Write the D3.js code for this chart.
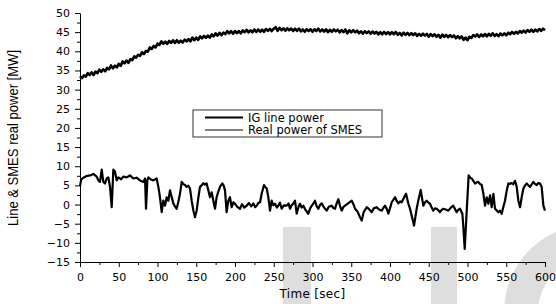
<!DOCTYPE html>
<html>
<head>
<meta charset="utf-8">
<script src="https://cdn.jsdelivr.net/npm/d3@7"></script>
<style>
  body { margin: 0; background: #fff; }
  svg { display: block; }
  .tick text { font-family: "DejaVu Sans", sans-serif; font-size: 11px; fill: #000; }
</style>
</head>
<body>
<svg id="chart" width="556" height="304"></svg>
<script>
const width = 556;
const height = 304;

const margin = {top: 13, right: 11, bottom: 42, left: 80};

// IG line power [MW], sampled every 2.5 s from 0 to 600 s
const igStep = 2.5;
const igPower = [
  33.5, 33.0, 33.7, 33.4, 34.3, 33.8, 34.5, 33.8, 34.7, 34.3,
  35.2, 34.65, 35.3, 34.8, 35.65, 35.3, 36.3, 35.55, 36.25, 35.8,
  36.7, 36.2, 37.35, 36.85, 37.6, 37.0, 37.95, 37.7, 38.65, 38.35,
  39.1, 38.8, 39.75, 39.25, 40.1, 39.9, 41.0, 40.6, 41.4, 41.0,
  42.0, 41.7, 42.6, 42.0, 42.5, 41.95, 42.7, 42.2, 42.85, 42.2,
  42.9, 42.25, 42.8, 42.3, 43.05, 42.6, 43.2, 42.6, 43.6, 42.9,
  43.6, 43.0, 43.9, 43.4, 44.0, 43.5, 44.1, 43.6, 44.4, 43.9,
  44.7, 44.1, 44.8, 44.2, 44.9, 44.5, 45.25, 44.7, 45.25, 44.6,
  45.3, 44.75, 45.3, 44.7, 45.45, 45.0, 45.6, 44.95, 45.45, 45.0,
  45.7, 45.05, 45.7, 45.1, 45.65, 45.1, 45.8, 45.35, 45.85, 45.3,
  45.9, 46.3, 45.35, 46.1, 45.5, 46.0, 45.35, 46.0, 45.5, 45.95,
  45.3, 45.9, 45.35, 45.95, 45.2, 45.7, 45.1, 45.75, 45.25, 45.75,
  45.1, 45.75, 45.3, 45.9, 45.2, 45.7, 45.15, 45.75, 45.0, 45.6,
  45.1, 45.7, 45.2, 45.65, 44.95, 45.55, 45.0, 45.7, 44.7, 45.5,
  44.95, 45.5, 44.95, 45.4, 44.75, 45.2, 44.6, 45.25, 44.75, 45.2,
  44.6, 45.15, 44.65, 45.1, 44.4, 45.0, 44.45, 45.05, 44.5, 45.0,
  44.4, 45.0, 44.45, 45.05, 44.3, 44.8, 44.15, 44.85, 44.3, 44.8,
  44.2, 44.75, 44.25, 44.7, 44.0, 44.55, 44.05, 44.6, 44.1, 44.55,
  43.8, 44.5, 43.95, 44.45, 43.8, 44.3, 43.55, 44.35, 43.8, 44.3,
  43.7, 44.25, 43.7, 44.15, 43.4, 43.95, 43.4, 43.9, 43.0, 43.6,
  42.9, 43.8, 43.5, 44.25, 43.85, 44.4, 43.75, 44.4, 43.9, 44.5,
  43.9, 44.55, 44.05, 44.7, 44.0, 44.5, 43.95, 44.65, 44.2, 44.7,
  44.15, 44.85, 44.45, 45.05, 44.55, 45.1, 44.65, 45.3, 44.85, 45.4,
  44.9, 45.55, 45.1, 45.65, 45.1, 45.65, 45.2, 45.8, 45.35, 45.9,
  45.5
];

// Real power of SMES [MW], read at the turning points of the trace
const smesTime = [
  0, 1.5, 4.3, 8, 12.9, 17.2, 21.5, 23.7, 25.8, 28, 30.1, 32.3, 34.4, 36.6, 38.7, 40.9,
  43, 45.2, 47.3, 49.5, 53, 56, 60.2, 64.5, 68.8, 73, 77.4, 81.7, 83.9, 85.2, 86.9, 88.2,
  91, 94.6, 98.9, 101.1, 103.2, 105.4, 107.5, 109.7, 111.8, 114, 116.1, 118.5, 120.4, 122.5,
  124.7, 127, 129, 131.2, 133.5, 135.5, 137.6, 139.8, 141.9, 144.1, 146.2, 148.4, 150.5,
  152.5, 154.8, 157, 159.1, 161.2, 163.4, 165.6, 167.7, 169.9, 172, 174.2, 176.3, 178.5,
  180.6, 183.6, 185.3, 187.1, 189.2, 191.4, 193.5, 195.7, 198, 200, 203, 206.4, 209, 212,
  215.1, 218, 221, 223.7, 226, 228, 230, 232.3, 234.4, 237.4, 239, 240.9, 243, 245.2,
  247.3, 249.5, 251.6, 254, 255.9, 258, 260.2, 263, 266.7, 269, 271, 273, 275.3, 277.4,
  279.6, 282, 283.9, 286, 288.2, 291, 294.6, 297, 299, 301, 303.2, 305.5, 307.6, 310,
  311.9, 315, 318.3, 321, 324.8, 327, 329.1, 331, 333.4, 335.5, 337.7, 340, 342, 346,
  350.6, 353, 354.9, 358, 361, 363.5, 366, 369.9, 373, 376.4, 379, 382.8, 386, 389.3,
  391.5, 393.6, 396, 397.9, 400, 402.2, 404.5, 406.5, 408.5, 410.8, 413, 415.1, 418,
  420.7, 423.7, 426, 428, 431, 434.4, 437, 439.6, 443, 445, 447.3, 449.5, 451.6, 453.8,
  455.9, 458, 460.2, 462.3, 464.5, 466.7, 468.8, 472, 475.3, 478.5, 481.7, 484, 486, 488,
  490.3, 492, 493.4, 494.7, 496.4, 499, 501.5, 503.5, 505.4, 507.5, 509.7, 512, 514, 516,
  518.3, 520.5, 522.6, 524.8, 526.9, 529.1, 531.2, 533.4, 535.5, 537.5, 539.8, 542, 544.1,
  546.3, 548.4, 550.5, 552.7, 555, 557, 559, 561.3, 563.5, 565.6, 567.8, 569.9, 572.1,
  574.3, 576.4, 578.5, 580.7, 583, 585, 587, 589.3, 591.5, 593.6, 595.7, 597.9, 600
];
const smesPower = [
  4.8, 6.5, 7.0, 7.4, 7.6, 8.0, 7.3, 6.3, 5.9, 9.1, 5.9, 5.5, 6.8, 7.1, 4.6, -0.7,
  9.1, 8.6, 6.3, 7.1, 6.6, 7.3, 7.1, 7.6, 6.8, 7.0, 6.3, 5.9, 6.8, -1.1, 6.3, 7.1,
  6.6, 6.3, 6.8, 4.6, 1.9, -2.0, 1.0, -0.3, 1.9, 1.0, 3.7, 1.8, 0.3, -0.5,
  -1.1, 0.8, 2.8, 5.9, 5.3, 5.1, 4.6, 4.9, 4.2, 1.0, -1.5, -3.3, -1.6,
  1.5, 4.6, 5.0, 5.6, 5.2, 5.5, 3.7, 1.9, 3.2, 1.0, -1.1, 1.9, 3.4,
  4.6, 5.5, 5.0, 3.7, -2.0, 1.0, 1.9, -0.7, 0.6, 0.2, -0.6, -1.1, 0.1, -0.8,
  -0.3, 0.4, -0.5, 0.3, -0.7, -0.3, 0.4, 0.6, 2.8, 5.1, 4.6, 4.2, 1.9, -1.6,
  1.0, -0.2, 0.2, -0.8, -0.3, 0.5, -1.1, -0.2, -0.3, 0.3, -1.1, -0.2, 0.3, 1.0,
  -2.4, -0.6, 0.2, -0.8, -0.3, -1.4, -2.4, -1.0, -0.3, 0.2, 1.0, -0.5, -1.1, 0.0,
  0.3, -0.8, -1.6, -0.6, -0.3, -0.9, -1.1, 0.2, 1.4, -0.4, -1.6, -0.6, -0.3, 0.3,
  1.0, 0.0, -1.1, -1.8, -3.2, -4.2, -2.0, -0.7, -1.2, -2.0, -1.0, -0.7, -1.3, -1.6,
  -0.9, -0.3, -1.2, -2.4, -1.0, 0.6, 1.3, 1.9, 1.0, 0.3, 0.8, 0.6, 1.8,
  2.8, 0.2, -1.2, -2.9, -5.5, -1.1, 1.5, 3.8, -0.3, 0.5, 1.0, 0.5, 0.2, -0.8,
  -1.6, -1.0, -1.1, -1.5, -2.0, -1.4, -1.1, -1.3, -1.6, -0.8, -0.3, -1.2, -2.0, -1.4,
  -1.1, -1.8, -2.4, -6.0, -11.6, -1.6, 7.6, 7.0, 6.8, 6.2, 5.5, 5.8, 5.9, 5.4,
  5.1, 2.8, -0.3, 1.9, 0.2, 2.4, -0.7, 2.8, -1.1, -1.5, -2.0, -1.6, -2.4,
  -0.6, 1.0, 3.5, 5.5, 5.4, 5.6, 5.3, 6.2, 4.6, 1.0, -0.7, 1.9, 4.2,
  5.0, 5.5, 5.0, 4.6, 5.3, 5.9, 5.4, 5.1, 5.6, 5.5, 4.6, -0.3, -1.6
];

const xTicks = [0, 50, 100, 150, 200, 250, 300, 350, 400, 450, 500, 550, 600];
const yTicks = [-15, -10, -5, 0, 5, 10, 15, 20, 25, 30, 35, 40, 45, 50];
const legendLabels = ["IG line power", "Real power of SMES"];

const svg = d3.select("#chart");

const chartWidth = width - margin.left - margin.right;
const chartHeight = height - margin.top - margin.bottom;

// light grey watermark behind the plot
const wm = svg.append("g").attr("fill", "#dedede");
wm.append("rect").attr("x", 283).attr("y", 227).attr("width", 28).attr("height", 77);
wm.append("rect").attr("x", 431).attr("y", 227).attr("width", 26).attr("height", 77);
wm.append("path")
    .attr("transform", "translate(592,312)")
    .attr("d", d3.arc()({innerRadius: 54, outerRadius: 88, startAngle: -Math.PI * 0.62, endAngle: Math.PI * 0.2}));

const g = svg.append("g")
    .attr("transform", `translate(${margin.left},${margin.top})`);

const x = d3.scaleLinear()
    .domain([0, 600])
    .range([0, chartWidth]);

const y = d3.scaleLinear()
    .domain([-15, 50])
    .range([chartHeight, 0]);

const igData = igPower.map((v, i) => ({t: i * igStep, v: v}));
const smesData = smesTime.map((t, i) => ({t: t, v: smesPower[i]}));

const line = d3.line()
    .x(d => x(d.t))
    .y(d => y(d.v));

g.append("path")
    .datum(igData)
    .attr("fill", "none")
    .attr("stroke", "#000")
    .attr("stroke-width", 2.6)
    .attr("stroke-linejoin", "round")
    .attr("d", line);

g.append("path")
    .datum(smesData)
    .attr("fill", "none")
    .attr("stroke", "#000")
    .attr("stroke-width", 2.2)
    .attr("stroke-linejoin", "round")
    .attr("d", line);

// minor ticks first, then major ticks with labels
g.append("g")
    .attr("transform", `translate(0,${chartHeight})`)
    .call(d3.axisBottom(x).tickValues(xTicks.slice(0, -1).map(d => d + 25)).tickSize(3).tickFormat(""))
    .call(a => a.select(".domain").remove());

g.append("g")
    .attr("transform", `translate(0,${chartHeight})`)
    .call(d3.axisBottom(x).tickValues(xTicks).tickSize(5).tickSizeOuter(0).tickPadding(6));

g.append("g")
    .call(d3.axisLeft(y).tickValues(yTicks.slice(0, -1).map(d => d + 2.5)).tickSize(3).tickFormat(""))
    .call(a => a.select(".domain").remove());

g.append("g")
    .call(d3.axisLeft(y).tickValues(yTicks).tickSize(5).tickSizeOuter(0).tickPadding(5));

g.selectAll(".domain, .tick line").attr("stroke", "#000");

// axis titles
svg.append("text")
    .attr("x", margin.left + chartWidth / 2)
    .attr("y", 298)
    .attr("text-anchor", "middle")
    .style("font-family", "DejaVu Sans, sans-serif")
    .style("font-size", "12px")
    .style("letter-spacing", "0.3px")
    .text("Time [sec]");

svg.append("text")
    .attr("transform", "translate(18,138) rotate(-90)")
    .attr("text-anchor", "middle")
    .attr("textLength", 176)
    .attr("lengthAdjust", "spacingAndGlyphs")
    .style("font-family", "Liberation Sans, Arial, sans-serif")
    .style("font-size", "14px")
    .text("Line & SMES real power [MW]");

// legend
const legend = svg.append("g").attr("transform", "translate(193,110)");

legend.append("rect")
    .attr("width", 189)
    .attr("height", 27)
    .attr("fill", "#fff")
    .attr("stroke", "#333")
    .attr("stroke-width", 1);

legendLabels.forEach((label, i) => {
    legend.append("line")
        .attr("x1", 12).attr("x2", 50)
        .attr("y1", 7.5 + i * 12.5).attr("y2", 7.5 + i * 12.5)
        .attr("stroke", "#000")
        .attr("stroke-width", i === 0 ? 1.8 : 1);

    legend.append("text")
        .attr("x", 55)
        .attr("y", 11.5 + i * 12.5)
        .style("font-family", "DejaVu Sans, sans-serif")
        .style("font-size", "11.5px")
        .text(label);
});
</script>
</body>
</html>
